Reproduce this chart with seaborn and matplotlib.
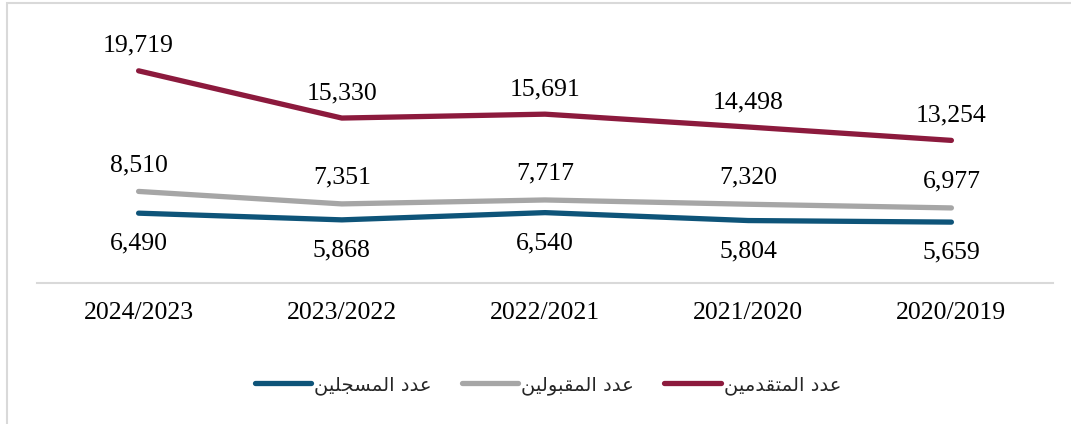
import matplotlib
matplotlib.use("Agg")
import matplotlib.pyplot as plt
from matplotlib.lines import Line2D
from matplotlib.patches import Rectangle
import pandas as pd
import seaborn as sns

# Academic years, newest first
years = ["2024/2023", "2023/2022", "2022/2021", "2021/2020", "2020/2019"]
applicants = [19719, 15330, 15691, 14498, 13254]   # عدد المتقدمين
accepted = [8510, 7351, 7717, 7320, 6977]          # عدد المقبولين
enrolled = [6490, 5868, 6540, 5804, 5659]          # عدد المسجلين

series_names = ["عدد المتقدمين", "عدد المقبولين", "عدد المسجلين"]
series_values = [applicants, accepted, enrolled]
series_colors = ["#8C1A3D", "#A6A6A6", "#0E5479"]

# --- minimal Arabic shaping (isolated, final, initial, medial) ---
_FORMS = {
    "ع": ("\uFEC9", "\uFECA", "\uFECB", "\uFECC"),
    "د": ("\uFEA9", "\uFEAA", None, None),
    "ا": ("\uFE8D", "\uFE8E", None, None),
    "ل": ("\uFEDD", "\uFEDE", "\uFEDF", "\uFEE0"),
    "م": ("\uFEE1", "\uFEE2", "\uFEE3", "\uFEE4"),
    "ت": ("\uFE95", "\uFE96", "\uFE97", "\uFE98"),
    "ق": ("\uFED5", "\uFED6", "\uFED7", "\uFED8"),
    "ي": ("\uFEF1", "\uFEF2", "\uFEF3", "\uFEF4"),
    "ن": ("\uFEE5", "\uFEE6", "\uFEE7", "\uFEE8"),
    "ب": ("\uFE8F", "\uFE90", "\uFE91", "\uFE92"),
    "و": ("\uFEED", "\uFEEE", None, None),
    "س": ("\uFEB1", "\uFEB2", "\uFEB3", "\uFEB4"),
    "ج": ("\uFE9D", "\uFE9E", "\uFE9F", "\uFEA0"),
}


def shape_arabic(text):
    out = []
    for i, ch in enumerate(text):
        if ch not in _FORMS:
            out.append(ch)
            continue
        prev = text[i - 1] if i > 0 else ""
        nxt = text[i + 1] if i + 1 < len(text) else ""
        join_prev = prev in _FORMS and _FORMS[prev][2] is not None
        join_next = _FORMS[ch][2] is not None and nxt in _FORMS
        forms = _FORMS[ch]
        if join_prev and join_next:
            out.append(forms[3])
        elif join_prev:
            out.append(forms[1])
        elif join_next:
            out.append(forms[2])
        else:
            out.append(forms[0])
    return "".join(out)[::-1]


rows = []
for name, vals in zip(series_names, series_values):
    for y, v in zip(years, vals):
        rows.append({"year": y, "value": v, "series": name})
df = pd.DataFrame(rows)

sns.set_theme(style="white")
plt.rcParams["font.family"] = ["Liberation Serif", "DejaVu Sans"]

fig = plt.figure(figsize=(10.71, 4.24), dpi=100)
ax = fig.add_axes([37 / 1071, 141 / 424, 1016 / 1071, 269 / 424])

sns.lineplot(
    data=df, x="year", y="value", hue="series", hue_order=series_names,
    palette=series_colors, sort=False, linewidth=3.8, legend=False, ax=ax,
)
for line in ax.get_lines():
    line.set_solid_capstyle("round")
    line.set_solid_joinstyle("round")

ax.set_xlim(-0.5, len(years) - 0.5)
ax.set_ylim(0, 25000)
ax.set_xlabel("")
ax.set_ylabel("")
ax.set_yticks([])
for side in ["top", "left", "right"]:
    ax.spines[side].set_visible(False)
ax.spines["bottom"].set_color("#D9D9D9")
ax.spines["bottom"].set_linewidth(1.5)
ax.tick_params(axis="x", length=0, pad=14, labelsize=18.5, labelcolor="black")
for lbl in ax.get_xticklabels():
    lbl.set_fontfamily("Liberation Serif")

# value labels: above for the top two series, below for enrolled
offsets = [18, 19, -22]
for vals, off in zip(series_values, offsets):
    for i, v in enumerate(vals):
        ax.annotate(f"{v:,}", (i, v), xytext=(0, off), textcoords="offset points",
                    ha="center", va="center", fontsize=18.5,
                    fontfamily="Liberation Serif", color="black")

# legend: enrolled, accepted, applicants (left to right)
order = [2, 1, 0]
handles = [Line2D([0], [0], color=series_colors[k], lw=3.8, solid_capstyle="round")
           for k in order]
labels = [shape_arabic(series_names[k]) for k in order]
leg = fig.legend(handles, labels, loc="center", bbox_to_anchor=(548 / 1071, 1 - 385 / 424),
                 ncol=3, frameon=False, handlelength=2.9, handletextpad=0.15,
                 columnspacing=1.55, prop={"family": "DejaVu Sans", "size": 14})

# light frame along the top and left edges
fig.patches.append(Rectangle((7 / 1071, -0.01), 1.05, (424 - 2.5) / 424 + 0.01,
                             transform=fig.transFigure, fill=False,
                             edgecolor="#D9D9D9", linewidth=1.5, zorder=0))

fig.savefig("out.png", dpi=100, facecolor="white")
